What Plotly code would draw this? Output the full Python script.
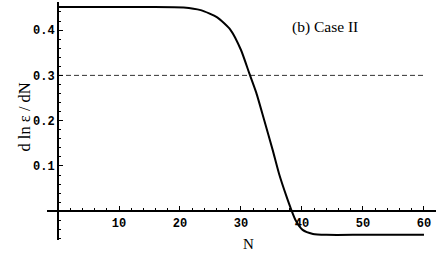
import plotly.graph_objects as go

# Data
N_vals = [0, 10, 15, 20.6, 23.4, 26.1, 28.3, 30.0, 31.35, 32.5, 33.8, 35.2, 36.3, 37.4, 38.2, 39.0, 40.1, 41.8, 44, 50, 60]
dlne_vals = [0.451, 0.451, 0.451, 0.450, 0.444, 0.428, 0.400, 0.356, 0.305, 0.262, 0.2015, 0.135, 0.080, 0.035, 0.005, -0.021, -0.041, -0.050, -0.052, -0.052, -0.052]
ref_N = [0, 60]
ref_level = [0.3, 0.3]
x_ticks = [10, 20, 30, 40, 50, 60]
y_ticks = [0.1, 0.2, 0.3, 0.4]
y_tick_text = ["0.1", "0.2", "0.3", "0.4"]

W, H = 436, 263

fig = go.Figure()
fig.add_trace(go.Scatter(x=ref_N, y=ref_level, mode="lines",
                         line=dict(color="#333", width=1, dash="5px,3px"),
                         showlegend=False, hoverinfo="skip"))
fig.add_trace(go.Scatter(x=N_vals, y=dlne_vals, mode="lines",
                         line=dict(color="black", width=2, shape="spline", smoothing=0.6),
                         showlegend=False))

tickfont = dict(family="Liberation Mono", size=12, color="black", weight="bold")

fig.update_layout(
    template="none",
    width=W, height=H,
    margin=dict(l=0, r=0, t=0, b=0, pad=0),
    paper_bgcolor="white", plot_bgcolor="white",
    xaxis=dict(domain=[47 / W, 1.0], range=[-1.803, 61.97], automargin=False,
               anchor="free", position=1 - 211.3 / H,
               showgrid=False, zeroline=False,
               showline=True, linecolor="black", linewidth=2,
               tickmode="array", tickvals=x_ticks, ticktext=[str(v) for v in x_ticks],
               ticks="inside", ticklen=4, tickwidth=1, tickcolor="black",
               minor=dict(tickmode="linear", tick0=0, dtick=2, ticks="inside",
                          ticklen=2, tickwidth=1, tickcolor="black"),
               tickfont=tickfont),
    yaxis=dict(domain=[23 / H, 261 / H], range=[-0.0634, 0.462], automargin=False,
               anchor="free", position=58 / W,
               showgrid=False, zeroline=False,
               showline=True, linecolor="black", linewidth=2,
               tickmode="array", tickvals=y_ticks, ticktext=y_tick_text,
               ticks="inside", ticklen=4, tickwidth=1, tickcolor="black",
               minor=dict(tickmode="linear", tick0=0, dtick=0.02, ticks="inside",
                          ticklen=2, tickwidth=1, tickcolor="black"),
               tickfont=tickfont),
    annotations=[
        dict(text="(b) Case II", x=360 / W, y=1 - 16 / H, xref="paper", yref="paper",
             showarrow=False, font=dict(family="Liberation Serif", size=15.5, color="black")),
        dict(text="N", x=248 / W, y=1 - 254 / H, xref="paper", yref="paper",
             showarrow=False, font=dict(family="Liberation Serif", size=15, color="black")),
        dict(text="d ln ε / dN", x=13 / W, y=1 - 117 / H, xref="paper", yref="paper",
             textangle=-90, showarrow=False,
             font=dict(family="Liberation Serif", size=16.5, color="black")),
    ],
)

fig.write_html("out.html", config={"displayModeBar": False},
               post_script="document.body.style.margin='0';")
